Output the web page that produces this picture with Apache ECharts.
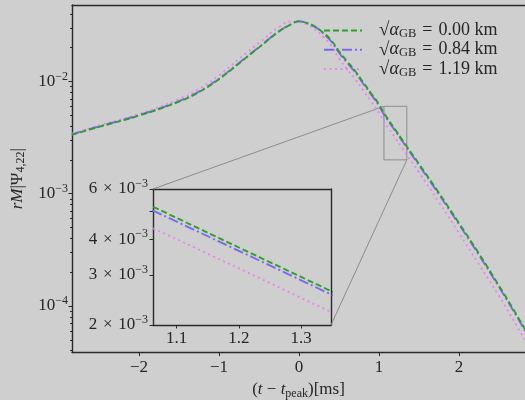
<!DOCTYPE html>
<html><head><meta charset="utf-8">
<script src="https://cdn.jsdelivr.net/npm/echarts@6/dist/echarts.min.js"></script>
<style>html,body{margin:0;padding:0;background:#cfcfcf}#c{width:525px;height:400px}</style>
</head><body><div id="c"></div>
<script>
// ---- data ----
const times = [-2.84,-2.5,-2.0,-1.5,-1.25,-1.0,-0.75,-0.5,-0.25,-0.1,0.0,0.1,0.2,0.3,0.4,0.5,0.6,0.7,0.8,0.9,1.0,1.062,1.1,1.2,1.3,1.348,1.5,1.75,2.0,2.25,2.5,2.65,2.83];
const psi000 = [3.342e-3,3.936e-3,4.955e-3,6.607e-3,8.035e-3,1.047e-2,1.445e-2,2.009e-2,2.786e-2,3.221e-2,3.436e-2,3.311e-2,3.083e-2,2.729e-2,2.339e-2,1.849e-2,1.514e-2,1.245e-2,9.86e-3,7.85e-3,6.24e-3,5.20e-3,4.75e-3,3.74e-3,2.95e-3,2.63e-3,1.841e-3,1.012e-3,5.47e-4,2.92e-4,1.514e-4,1.012e-4,6.12e-5];
const psi084 = [3.373e-3,3.972e-3,5.000e-3,6.668e-3,8.110e-3,1.057e-2,1.459e-2,2.023e-2,2.799e-2,3.228e-2,3.436e-2,3.296e-2,3.055e-2,2.692e-2,2.280e-2,1.799e-2,1.472e-2,1.211e-2,9.59e-3,7.64e-3,6.07e-3,5.04e-3,4.61e-3,3.64e-3,2.87e-3,2.56e-3,1.791e-3,9.84e-4,5.32e-4,2.84e-4,1.472e-4,9.84e-5,5.96e-5];
const psi119 = [3.420e-3,4.046e-3,5.117e-3,6.950e-3,8.551e-3,1.130e-2,1.585e-2,2.203e-2,3.055e-2,3.412e-2,3.381e-2,3.199e-2,2.884e-2,2.512e-2,2.089e-2,1.603e-2,1.288e-2,1.052e-2,8.36e-3,6.65e-3,5.25e-3,4.37e-3,4.00e-3,3.16e-3,2.49e-3,2.22e-3,1.549e-3,8.41e-4,4.47e-4,2.34e-4,1.23e-4,8.13e-5,4.90e-5];
const alphaLabels = ['0.00','0.84','1.19'];
const xTicks = [-2,-1,0,1,2];
const yMajorTicks = [1e-4,1e-3,1e-2];
const xRange = [-2.8375, 2.825];
const yRange = [3.85e-5, 4.79e-2];
const insetX = [1.062, 1.348];
const insetY = [2e-3, 6e-3];
const insetXTicks = [1.1,1.2,1.3];
const insetYTicks = [2e-3,3e-3,4e-3,5e-3,6e-3];
const insetYLabels = [2e-3,3e-3,4e-3,6e-3];

// ---- styling ----
const L = Math.log10;
const C = '#262626';
const F = 'Liberation Serif';
const FS = 17;
const SP = '#2a2a2a';
const yMinorTicks = [];
for (let e = -5; e <= -2; e++) for (let k = 2; k <= 9; k++) {
  const v = k * Math.pow(10, e);
  if (v > yRange[0] && v < yRange[1]) yMinorTicks.push(L(v));
}
const richBase = {
  b: {fontFamily: F, fontSize: FS, color: C, lineHeight: 22},
  s: {fontFamily: F, fontSize: 12, color: C, lineHeight: 12, verticalAlign: 'top'}
};
const richName = {
  p: {fontFamily: F, fontSize: FS, color: C, lineHeight: 20},
  i: {fontFamily: F, fontSize: FS, fontStyle: 'italic', color: C, lineHeight: 20},
  u: {fontFamily: F, fontSize: 12, color: C, lineHeight: 13, verticalAlign: 'bottom'}
};
const minus = v => (v < 0 ? '\u2212' + Math.abs(v) : String(v));
const colors = ['#2ca02c', '#7b68ee', '#ee82ee'];
const dashes = [[6, 3], [10, 3, 2, 3], [2, 3.5]];
const sets = [psi000, psi084, psi119];
const names = alphaLabels.map(a => '\u221A\u03B1GB = ' + a + ' km');

const hideAll = {axisLabel: {show: false}, axisTick: {show: false}, splitLine: {show: false}};
const spine = {show: true, onZero: false, lineStyle: {color: SP, width: 1.4}};

const series = [];
sets.forEach((arr, i) => {
  series.push({
    name: names[i], type: 'line', xAxisIndex: 0, yAxisIndex: 0,
    data: times.map((t, j) => [t, L(arr[j])]),
    symbol: 'none', smooth: 0.4,
    lineStyle: {color: colors[i], width: 1.9, type: dashes[i]},
    itemStyle: {color: colors[i]}, z: 3 - i + 2,
    markArea: i === 0 ? {silent: true,
      itemStyle: {color: 'rgba(0,0,0,0)', borderColor: '#8c8c8c', borderWidth: 1},
      data: [[{coord: [insetX[0], L(insetY[1])]}, {coord: [insetX[1], L(insetY[0])]}]]} : undefined
  });
});
sets.forEach((arr, i) => {
  series.push({
    name: names[i], type: 'line', xAxisIndex: 2, yAxisIndex: 2,
    data: times.map((t, j) => [t, L(arr[j])]),
    symbol: 'none', clip: true,
    lineStyle: {color: colors[i], width: 1.9, type: dashes[i]},
    itemStyle: {color: colors[i]}, z: 3 - i + 2
  });
});

const option = {
  backgroundColor: '#cfcfcf',
  animation: false,
  grid: [
    {left: 72, top: 5, width: 453, height: 347.5, outerBoundsMode: 'none'},
    {left: 153, top: 189, width: 178, height: 136, outerBoundsMode: 'none'}
  ],
  legend: {
    orient: 'vertical', left: 323, top: 21, padding: 0, itemGap: 0,
    itemWidth: 38, itemHeight: 14,
    itemStyle: {color: 'rgba(0,0,0,0)', borderWidth: 0, opacity: 0},
    data: names,
    formatter: n => '{r|\u221A}{a|\u03B1}{g|GB}{t|\u2004=\u2004' + n.split('= ')[1] + '}',
    textStyle: {
      color: C, fontFamily: F,
      rich: {
        r: {fontFamily: F, fontSize: 19, color: C, lineHeight: 19.5, padding: [0, 0, 0, 12]},
        a: {fontFamily: F, fontSize: 18, fontStyle: 'italic', color: C, lineHeight: 19.5},
        g: {fontFamily: F, fontSize: 12.5, color: C, lineHeight: 13, verticalAlign: 'bottom'},
        t: {fontFamily: F, fontSize: 18, color: C, lineHeight: 19.5}
      }
    }
  },
  xAxis: [
    {type: 'value', gridIndex: 0, position: 'bottom', min: xRange[0], max: xRange[1],
     axisLine: spine, splitLine: {show: false},
     axisTick: {show: true, customValues: xTicks, length: 3.5, lineStyle: {color: SP}},
     axisLabel: {customValues: xTicks, formatter: minus, margin: 7, color: C, fontFamily: F, fontSize: FS},
     name: '{p|(}{i|t}{p| \u2212 }{i|t}{u|peak}{p|)[ms]}', nameLocation: 'middle', nameGap: 24.5,
     nameTextStyle: {rich: richName}},
    Object.assign({type: 'value', gridIndex: 0, position: 'top', min: xRange[0], max: xRange[1], axisLine: spine}, hideAll),
    {type: 'value', gridIndex: 1, position: 'bottom', min: insetX[0], max: insetX[1],
     axisLine: spine, splitLine: {show: false},
     axisTick: {show: true, customValues: insetXTicks, length: 3.5, lineStyle: {color: SP}},
     axisLabel: {customValues: insetXTicks, formatter: v => v.toFixed(1), margin: 5, color: C, fontFamily: F, fontSize: FS}},
    Object.assign({type: 'value', gridIndex: 1, position: 'top', min: insetX[0], max: insetX[1], axisLine: spine}, hideAll)
  ],
  yAxis: [
    {type: 'value', gridIndex: 0, position: 'left', min: L(yRange[0]), max: L(yRange[1]),
     axisLine: spine, splitLine: {show: false},
     axisTick: {show: true, customValues: yMajorTicks.map(L), length: 3.5, lineStyle: {color: SP}},
     axisLabel: {customValues: yMajorTicks.map(L), margin: 4,
       formatter: v => '{b|10}{s|\u2212' + Math.round(-v) + '}', rich: richBase},
     name: '{i|rM}{p||\u03A8}{u|4,22}{p||}', nameLocation: 'middle', nameGap: 42,
     nameTextStyle: {rich: richName}},
    {type: 'value', gridIndex: 0, position: 'left', min: L(yRange[0]), max: L(yRange[1]),
     axisLine: {show: false, onZero: false}, splitLine: {show: false}, axisLabel: {show: false},
     axisTick: {show: true, customValues: yMinorTicks, length: 2, lineStyle: {color: SP}}},
    {type: 'value', gridIndex: 1, position: 'left', min: L(insetY[0]), max: L(insetY[1]),
     axisLine: spine, splitLine: {show: false},
     axisTick: {show: true, customValues: insetYTicks.map(L), length: 3.5, lineStyle: {color: SP}},
     axisLabel: {customValues: insetYLabels.map(L), margin: 5,
       formatter: v => '{b|' + Math.round(Math.pow(10, v) * 1e3) + '\u2004\u00D7\u200410}{s|\u22123}', rich: richBase}},
    Object.assign({type: 'value', gridIndex: 1, position: 'right', min: L(insetY[0]), max: L(insetY[1]), axisLine: spine}, hideAll)
  ],
  series: series
};

const chart = echarts.init(document.getElementById('c'), null, {renderer: 'canvas'});
chart.setOption(option);
const a1 = chart.convertToPixel({xAxisIndex: 0, yAxisIndex: 0}, [insetX[0], L(insetY[1])]);
const b1 = chart.convertToPixel({xAxisIndex: 2, yAxisIndex: 2}, [insetX[0], L(insetY[1])]);
const a2 = chart.convertToPixel({xAxisIndex: 0, yAxisIndex: 0}, [insetX[1], L(insetY[0])]);
const b2 = chart.convertToPixel({xAxisIndex: 2, yAxisIndex: 2}, [insetX[1], L(insetY[0])]);
chart.setOption({graphic: [
  {type: 'line', silent: true, z: 1, shape: {x1: a1[0], y1: a1[1], x2: b1[0], y2: b1[1]}, style: {stroke: '#8c8c8c', lineWidth: 1}},
  {type: 'line', silent: true, z: 1, shape: {x1: a2[0], y1: a2[1], x2: b2[0], y2: b2[1]}, style: {stroke: '#8c8c8c', lineWidth: 1}}
]});
</script></body></html>
